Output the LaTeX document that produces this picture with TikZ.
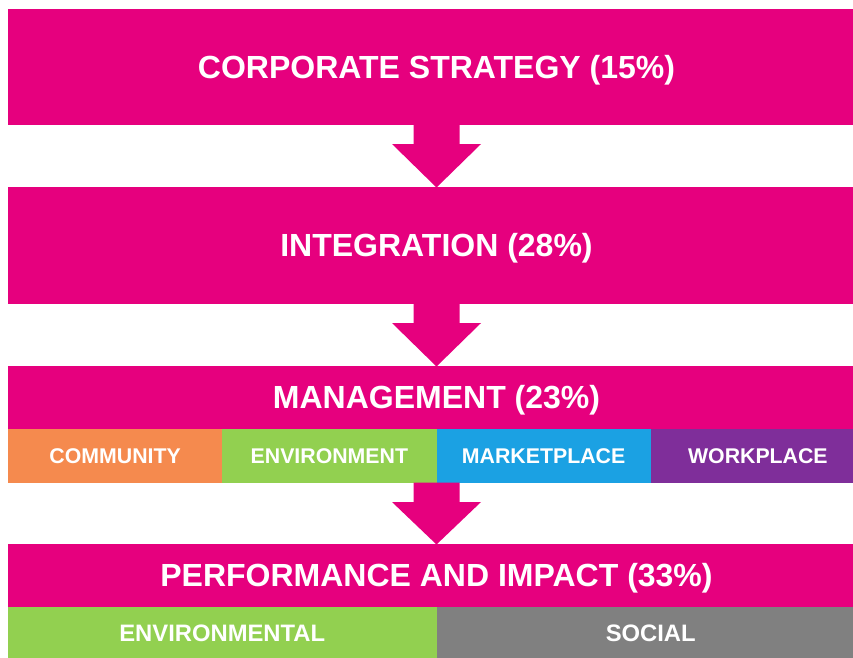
\documentclass[tikz,border=0pt]{standalone}
\usepackage{fontspec}
\setmainfont{Liberation Sans}
\usetikzlibrary{calc}
\definecolor{brandpink}{HTML}{E6007E}
\definecolor{commorange}{HTML}{F58A4E}
\definecolor{envgreen}{HTML}{92D050}
\definecolor{mktblue}{HTML}{1BA1E3}
\definecolor{wkpurple}{HTML}{7F2E9A}
\definecolor{socgray}{HTML}{808080}
\begin{document}
\begin{tikzpicture}[x=1pt,y=-1pt,
  blockbox/.style={fill=brandpink, text=white, inner sep=0pt, outer sep=0pt,
    anchor=north west, minimum width=857pt,
    font=\bfseries\fontsize{32}{36}\selectfont, text height=22.9pt, text depth=0pt},
  subbox/.style={text=white, inner sep=0pt, outer sep=0pt, anchor=north west,
    minimum width=214.25pt, minimum height=54pt,
    font=\bfseries\fontsize{21.3}{25}\selectfont, text height=15.2pt, text depth=0pt},
  lowbox/.style={text=white, inner sep=0pt, outer sep=0pt, anchor=north west,
    minimum width=428.5pt, minimum height=52pt,
    font=\bfseries\fontsize{23.8}{28}\selectfont, text height=17pt, text depth=0pt},
  flowarrow/.style={fill=brandpink}
]
\useasboundingbox (0,0) rectangle (853,657);
\clip (0,0) rectangle (853,657);

\node[blockbox, minimum height=116pt] (strat) at (8,9) {CORPORATE STRATEGY (15\%)};
\node[blockbox, minimum height=117pt] (integ) at (8,187) {INTEGRATION (28\%)};
\node[blockbox, minimum height=63pt] (mgmt) at (8,366) {MANAGEMENT (23\%)};
\node[subbox, fill=commorange] (comm) at (8,429) {COMMUNITY};
\node[subbox, fill=envgreen] (envm) at (222.25,429) {ENVIRONMENT};
\node[subbox, fill=mktblue] (mkt) at (436.5,429) {MARKETPLACE};
\node[subbox, fill=wkpurple] (work) at (650.75,429) {WORKPLACE};
\node[blockbox, minimum height=63pt] (perf) at (8,544) {PERFORMANCE AND IMPACT (33\%)};
\node[lowbox, fill=envgreen] (envl) at (8,607) {ENVIRONMENTAL};
\node[lowbox, fill=socgray] (soc) at (436.5,607) {SOCIAL};

\coordinate (a1) at (strat.south);
\coordinate (a2) at (integ.south);
\coordinate (a3) at (envm.south east);

\foreach \s/\t in {a1/integ, a2/mgmt, a3/perf}{
  \fill[flowarrow] ($(\s)+(-23,-0.5)$) -- ($(\s)+(-23,19)$) -- ($(\s)+(-44.5,19)$)
    -- ($(\t.north)+(0,0.5)$) -- ($(\s)+(44.5,19)$) -- ($(\s)+(23,19)$)
    -- ($(\s)+(23,-0.5)$) -- cycle;
}
\end{tikzpicture}
\end{document}
